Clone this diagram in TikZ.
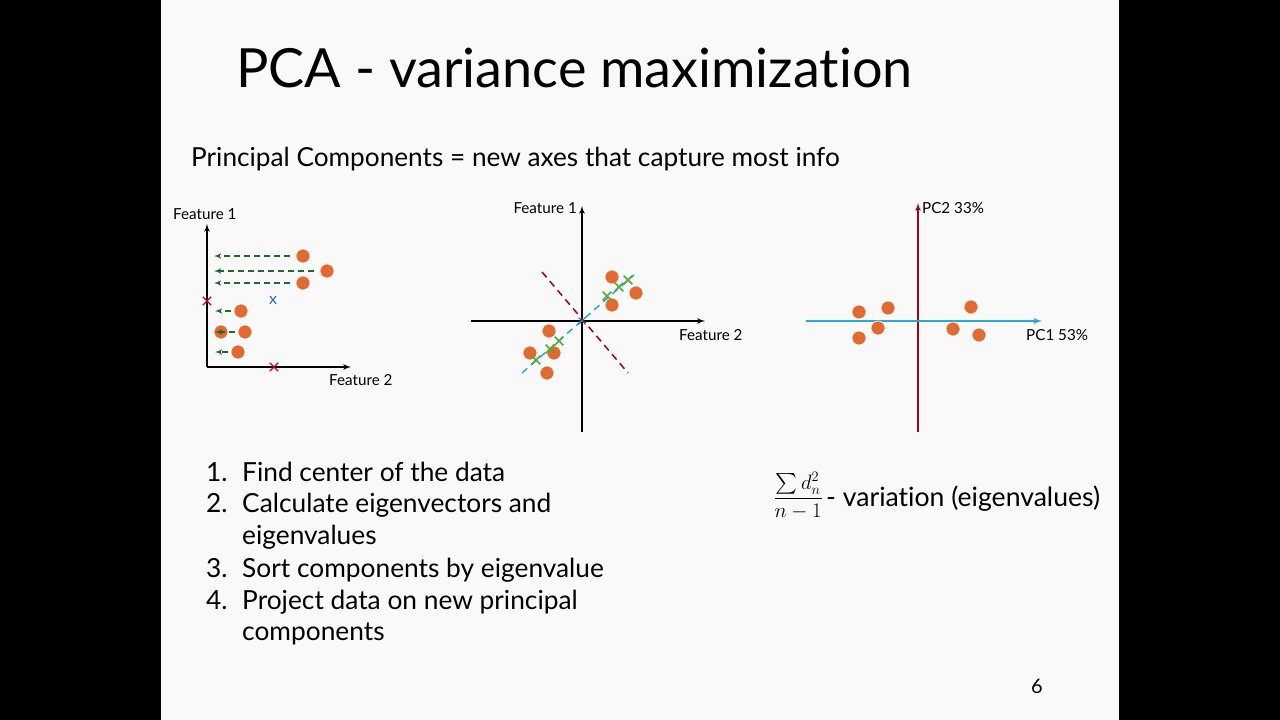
\documentclass[tikz,border=0pt]{standalone}
\usepackage{fontspec}
\setmainfont{Lato}[Ligatures=NoCommon]
\usepackage{amsmath}
\usetikzlibrary{arrows,shapes,positioning}
\definecolor{dotorange}{RGB}{226,106,48}
\definecolor{projgreen}{RGB}{30,105,45}
\definecolor{crossred}{RGB}{192,0,20}
\definecolor{crossgreen}{RGB}{80,170,60}
\definecolor{pcblue}{RGB}{40,170,215}
\definecolor{meanblue}{RGB}{35,110,170}
\definecolor{pcred}{RGB}{165,0,25}
\definecolor{slidebg}{RGB}{249,249,249}
\tikzset{
dot/.style={
  circle,
  fill=dotorange,
  draw=white,
  line width=0.6pt,
  inner sep=0pt,
  minimum size=14pt},
axis/.style={draw, line width=1.6pt, -latex'},
proj/.style={draw=projgreen, line width=1.4pt, dash pattern=on 6pt off 4pt, -latex'},
redcross/.style={cross out, draw=crossred, line width=1.3pt, minimum size=7pt, inner sep=0pt},
greencross/.style={cross out, draw=crossgreen, line width=1.6pt, minimum size=7pt, inner sep=0pt},
axislabel/.style={font=\fontsize{15.2}{17}\selectfont, inner sep=0pt},
listtext/.style={anchor=base west, inner sep=0pt, font=\fontsize{26.3}{30}\selectfont}
}

\begin{document}
\begin{tikzpicture}[x=1pt,y=-1pt]
    \fill[black] (0,0) rectangle (1280,720);
    \fill[slidebg] (161,0) rectangle (1119,720);
    % titles
    \node[anchor=base west, inner sep=0pt, font=\fontsize{54}{60}\selectfont] (title) at (236,87) {PCA - variance maximization};
    \node[anchor=base west, inner sep=0pt, font=\fontsize{26.2}{30}\selectfont] (subtitle) at (191,166) {Principal Components = new axes that capture most info};
    % plot 1
    \coordinate (o1) at (207,367);
    \coordinate (y1) at (207,224);
    \coordinate (x1) at (351,367);
    \path [axis] (o1) -- (y1);
    \path [axis] (o1) -- (x1);
    \node[axislabel, anchor=base west] (f1a) at (173,219) {Feature 1};
    \node[axislabel, anchor=base west] (f2a) at (329,385) {Feature 2};
    \node[dot] (a1) at (303,256) {};
    \node[dot] (a2) at (327,271) {};
    \node[dot] (a3) at (303,283) {};
    \node[dot] (a4) at (241,311) {};
    \node[dot] (a5) at (245,332) {};
    \node[dot] (a6) at (221,332) {};
    \node[dot] (a7) at (238,352) {};
    \coordinate (p1) at (214,256);
    \coordinate (p2) at (214,271);
    \coordinate (p3) at (214,283);
    \coordinate (p4) at (215,311);
    \coordinate (p5) at (215,332);
    \coordinate (p7) at (215,352);
    \path [proj] (a1.west) ++(-6,0) -- (p1);
    \path [proj] (a2.west) ++(-6,0) -- (p2);
    \path [proj] (a3.west) ++(-6,0) -- (p3);
    \path [proj] (a4.west) ++(-3,0) -- (p4);
    \path [proj] (a5.west) ++(-3,0) -- (p5);
    \path [proj] (a7.west) ++(-3,0) -- (p7);
    \node[redcross] (c1) at (207,301) {};
    \node[redcross] (c2) at (274,367) {};
    \node[text=meanblue, font=\fontsize{16}{16}\selectfont, inner sep=0pt] (mean) at (273,300) {x};
    % plot 2
    \coordinate (o2) at (582,321);
    \coordinate (y2b) at (582,432);
    \coordinate (y2) at (582,206);
    \coordinate (x2l) at (471,321);
    \coordinate (x2) at (705,321);
    \path [axis] (y2b) -- (y2);
    \path [axis] (x2l) -- (x2);
    \node[axislabel, anchor=base east] (f1b) at (577,213) {Feature 1};
    \node[axislabel, anchor=base west] (f2b) at (679,340) {Feature 2};
    \coordinate (r1) at (542,272);
    \coordinate (r2) at (628,373);
    \coordinate (b1) at (522,373);
    \coordinate (b2) at (634,275);
    \draw[pcred, line width=1.5pt, dash pattern=on 7pt off 5pt] (r1) -- (r2);
    \draw[pcblue, line width=1.5pt, dash pattern=on 7pt off 5pt] (b1) -- (b2);
    \node[cross out, draw=meanblue, line width=1pt, minimum size=6pt, inner sep=0pt] (ctr) at (o2) {};
    \node[dot] (d1) at (612,277) {};
    \node[dot] (d2) at (636,293) {};
    \node[dot] (d3) at (612,305) {};
    \node[dot] (d4) at (549,331) {};
    \node[dot] (d5) at (530,353) {};
    \node[dot] (d6) at (554,353) {};
    \node[dot] (d7) at (547,373) {};
    \node[greencross] (g1) at (607,296) {};
    \node[greencross] (g2) at (619,287) {};
    \node[greencross] (g3) at (628,280) {};
    \node[greencross] (g4) at (559,341) {};
    \node[greencross] (g5) at (550,349) {};
    \node[greencross] (g6) at (536,360) {};
    % plot 3
    \coordinate (y3b) at (918,432);
    \coordinate (y3) at (918,203);
    \coordinate (x3l) at (806,321);
    \coordinate (x3) at (1042,321);
    \path [axis, draw=pcred] (y3b) -- (y3);
    \path [axis, draw=pcblue, line width=1.8pt] (x3l) -- (x3);
    \node[axislabel, anchor=base west] (pc2) at (922,213) {PC2 33\%};
    \node[axislabel, anchor=base west] (pc1) at (1026,340) {PC1 53\%};
    \node[dot] (e1) at (859,312) {};
    \node[dot] (e2) at (888,308) {};
    \node[dot] (e3) at (878,328) {};
    \node[dot] (e4) at (859,338) {};
    \node[dot] (e5) at (971,307) {};
    \node[dot] (e6) at (953,329) {};
    \node[dot] (e7) at (979,335) {};
    % steps
    \node[listtext] (n1) at (206,481) {1.};
    \node[listtext] (s1) at (242,481) {Find center of the data};
    \node[listtext] (n2) at (206,512) {2.};
    \node[listtext] (s2) at (242,512) {Calculate eigenvectors and};
    \node[listtext] (s2b) at (242,544) {eigenvalues};
    \node[listtext] (n3) at (206,577) {3.};
    \node[listtext] (s3) at (242,577) {Sort components by eigenvalue};
    \node[listtext] (n4) at (206,609) {4.};
    \node[listtext] (s4) at (242,609) {Project data on new principal};
    \node[listtext] (s4b) at (242,640) {components};
    % variation
    \node[anchor=east, inner sep=0pt, font=\fontsize{22}{26}\selectfont] (frac) at (823,496) {$\dfrac{\textstyle\sum d_n^2}{n-1}$};
    \node[listtext, font=\fontsize{26.6}{30}\selectfont] (var) at (826,506) {- variation (eigenvalues)};
    \node[anchor=base west, inner sep=0pt, font=\fontsize{20}{24}\selectfont] (page) at (1031,693) {6};
\end{tikzpicture}
\end{document}
